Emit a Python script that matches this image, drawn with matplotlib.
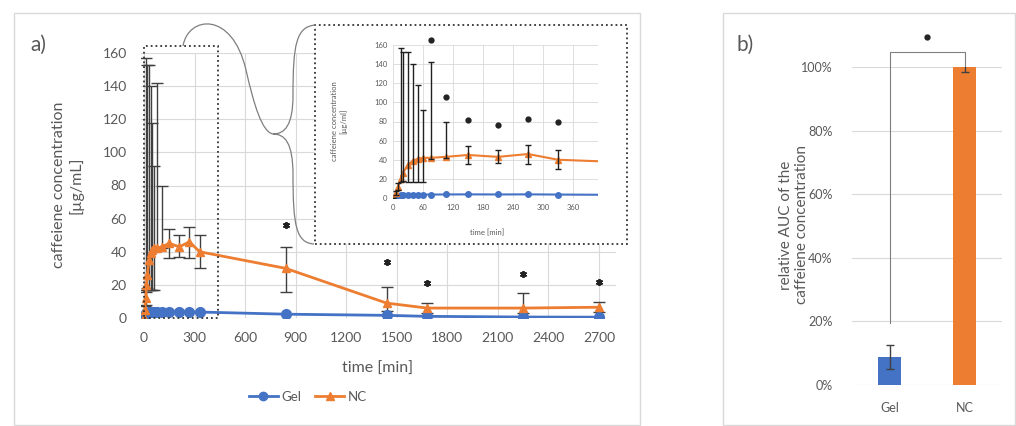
import numpy as np
import matplotlib
matplotlib.use('Agg')
import matplotlib.pyplot as plt
from matplotlib.patches import Rectangle, PathPatch
from matplotlib.path import Path
from matplotlib.lines import Line2D

plt.rcParams['font.family'] = ['Lato', 'DejaVu Sans']

# release data (time in min, concentration in ug/mL)
time = [0, 5, 10, 15, 20, 30, 40, 50, 60, 75, 105, 150, 210, 270, 330, 840, 1440, 1680, 2250, 2700]
gel = [0, 1.5, 2.5, 3.0, 3.2, 3.5, 3.5, 3.6, 3.6, 3.6, 3.7, 3.8, 3.7, 3.8, 3.6, 2.3, 1.6, 1.0, 0.6, 0.5]
nc = [0, 5, 12, 20, 26, 35, 39, 41, 42, 42, 43, 45, 43, 46, 40, 30, 9, 6, 6, 6.5]
nc_err_lo = [0, 2, 4, 3, 8, 18, 22, 24, 25, 1, 1, 9, 6, 10, 10, 14, 5, 3, 3, 3]
nc_err_hi = [0, 2, 4, 137, 127, 118, 101, 77, 50, 100, 37, 9, 7, 9, 10, 13, 10, 3, 9, 3]

# significance marks
star_main_t = [840, 1440, 1680, 2250, 2700]
star_main_y = [56, 34, 21, 26.5, 22]
star_inset_t = [75, 105, 150, 210, 270, 330]
star_inset_y = [165, 106, 82, 76, 83, 79]

# AUC bar chart
groups = ['Gel', 'NC']
auc = [0.088, 1.0]
auc_err = [0.038, 0.015]

W, H = 1016, 426
blue = '#4472C4'
orange = '#ED7D31'
grid_c = '#d9d9d9'
txt_c = '#595959'
err_c = '#404040'

fig = plt.figure(figsize=(W / 100, H / 100), dpi=100)


def fx(x):
    return x / W


def fy(y):
    return 1 - y / H


def box(x0, y0, x1, y1):
    return [fx(x0), fy(y1), fx(x1) - fx(x0), fy(y0) - fy(y1)]


# panel frames
fig.patches.append(Rectangle((fx(14), fy(425)), fx(640) - fx(14), fy(13) - fy(425),
                             transform=fig.transFigure, fill=False, ec=grid_c, lw=1, zorder=0))
fig.patches.append(Rectangle((fx(723), fy(425)), fx(1015) - fx(723), fy(13) - fy(425),
                             transform=fig.transFigure, fill=False, ec=grid_c, lw=1, zorder=0))

# ---- main panel a)
ax = fig.add_axes(box(140.6, 53, 615.8, 318))
ax.set_xlim(-20, 2800)
ax.set_ylim(0, 160)
ax.set_xticks(np.arange(0, 2701, 300))
ax.set_yticks(np.arange(0, 161, 20))
ax.grid(True, color=grid_c, lw=0.8)
ax.set_axisbelow(True)
for s in ax.spines.values():
    s.set_visible(False)
ax.tick_params(length=0, labelsize=10, colors=txt_c, pad=10)

ax.errorbar(time, nc, yerr=[nc_err_lo, nc_err_hi], fmt='none', ecolor=err_c, elinewidth=1, capsize=4, zorder=2)
ax.plot(time, gel, color=blue, lw=2, marker='o', ms=7, zorder=3)
ax.plot(time, nc, color=orange, lw=2, marker='^', ms=6, zorder=3)
ax.plot(star_main_t, star_main_y, ls='none', marker=(6, 2, 0), ms=5, mew=1.3, color='#222222')

ax.add_patch(Rectangle((0, 0), 440, 164, fill=False, ls=':', ec='#333333', lw=1.3, clip_on=False, zorder=4))

fig.text(fx(378), fy(369), 'time [min]', ha='center', va='center', fontsize=11.5, color=txt_c)
fig.text(fx(68), fy(185), 'caffeiene concentration\n[µg/mL]', ha='center', va='center',
         rotation=90, fontsize=11.5, color=txt_c, linespacing=1.2)
fig.text(fx(38), fy(45), 'a)', ha='center', va='center', fontsize=15, color=txt_c)

handles = [Line2D([], [], color=blue, lw=2, marker='o', ms=6),
           Line2D([], [], color=orange, lw=2, marker='^', ms=6)]
fig.legend(handles, ['Gel', 'NC'], loc='center', bbox_to_anchor=(fx(308), fy(397)), ncol=2,
           frameon=False, fontsize=9.5, handlelength=2.2, columnspacing=1.0, handletextpad=0.3,
           labelcolor=txt_c)

# white box + dotted frame for the inset
fig.patches.append(Rectangle((fx(315), fy(244)), fx(627) - fx(315), fy(25) - fy(244),
                             transform=fig.transFigure, fc='white', ec='#333333', ls=':', lw=1.3, zorder=1))

# connector curves
verts = [(183, 46), (188, 16), (232, 10), (246, 70), (254, 105), (262, 132), (273, 134)]
codes = [Path.MOVETO] + [Path.CURVE4] * 6
brace = [(316, 25), (296, 26), (293, 45), (293, 95), (293, 125), (285, 134), (273, 134),
         (285, 134), (293, 143), (293, 175), (293, 225), (296, 243), (314, 244)]
bcodes = [Path.MOVETO] + [Path.CURVE4] * 12
for v, c in [(verts, codes), (brace, bcodes)]:
    p = Path([(fx(a), fy(b)) for a, b in v], c)
    fig.patches.append(PathPatch(p, transform=fig.transFigure, fill=False, ec='#7f7f7f', lw=0.9, zorder=1.5))

# ---- inset
axi = fig.add_axes(box(393, 45, 598, 198), zorder=2)
axi.set_xlim(0, 410)
axi.set_ylim(0, 160)
axi.set_xticks(np.arange(0, 361, 60))
axi.set_yticks(np.arange(0, 161, 20))
axi.grid(True, color=grid_c, lw=0.6)
axi.set_axisbelow(True)
for s in axi.spines.values():
    s.set_visible(False)
axi.tick_params(length=0, labelsize=5.5, colors=txt_c, pad=4)
axi.patch.set_alpha(0)
axi.errorbar(time, nc, yerr=[nc_err_lo, nc_err_hi], fmt='none', ecolor='#202020', elinewidth=1, capsize=2.5, zorder=4)
axi.plot(time, gel, color=blue, lw=1.5, marker='o', ms=4, zorder=3)
axi.plot(time, nc, color=orange, lw=1.5, marker='^', ms=4, zorder=3)
axi.plot(star_inset_t, star_inset_y, ls='none', marker='o', ms=3.5, color='#222222', clip_on=False)
fig.text(fx(487), fy(233), 'time [min]', ha='center', va='center', fontsize=5.5, color=txt_c, zorder=3)
fig.text(fx(339), fy(121), 'caffeiene concentration\n[µg/ml]', ha='center', va='center',
         rotation=90, fontsize=5.5, color=txt_c, zorder=3)

# ---- panel b)
axb = fig.add_axes(box(852, 67, 1002, 385))
axb.bar([0, 1], auc, width=0.3, color=[blue, orange], zorder=2)
axb.errorbar([0, 1], auc, yerr=auc_err, fmt='none', ecolor=err_c, elinewidth=1, capsize=3, zorder=3)
axb.set_xlim(-0.5, 1.5)
axb.set_ylim(0, 1.0)
axb.set_xticks([0, 1])
axb.set_xticklabels(groups)
axb.set_yticks(np.arange(0, 1.01, 0.2))
axb.set_yticklabels(['{:.0f}%'.format(v * 100) for v in np.arange(0, 1.01, 0.2)])
axb.yaxis.grid(True, color=grid_c, lw=0.8)
axb.set_axisbelow(True)
for s in axb.spines.values():
    s.set_visible(False)
axb.tick_params(axis='y', length=0, labelsize=9, colors=txt_c, pad=14)
axb.tick_params(axis='x', length=0, labelsize=9, colors=txt_c, pad=12)
axb.plot([0, 0, 1, 1], [0.195, 1.047, 1.047, 1.0], color='#7f7f7f', lw=0.8, clip_on=False)
axb.plot([0.5], [1.095], ls='none', marker='o', ms=3.5, color='#222222', clip_on=False)
fig.text(fx(794), fy(225), 'relative AUC of the\ncaffeiene concentration', ha='center', va='center',
         rotation=90, fontsize=11, color=txt_c, linespacing=1.2)
fig.text(fx(745), fy(45), 'b)', ha='center', va='center', fontsize=15, color=txt_c)

fig.savefig('out.png', dpi=100)
